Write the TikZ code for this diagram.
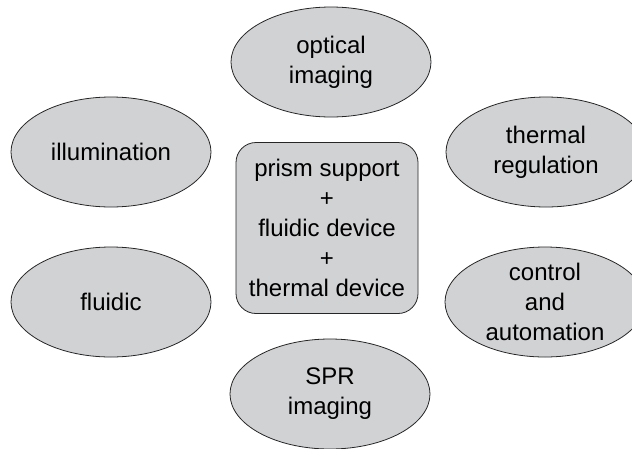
\documentclass[tikz,border=0pt]{standalone}
\usepackage{fontspec}
\setmainfont{Liberation Sans}
\usetikzlibrary{shapes.geometric}
\definecolor{partgray}{RGB}{209, 210, 212}

\begin{document}
\begin{tikzpicture}[x=1pt, y=-1pt,
			part/.style={ellipse, draw=black!85, fill=partgray, line width=0.8pt,
				minimum width=200pt, minimum height=110pt, inner xsep=0pt, inner ysep=-10pt,
				align=center, font=\fontsize{24}{30}\selectfont},
			core/.style={rectangle, rounded corners=20pt, draw=black!85, fill=partgray, line width=0.8pt,
				minimum width=182pt, minimum height=171pt, align=center,
				font=\fontsize{24}{30}\selectfont}]
			%Bildbereich
			\useasboundingbox (0,0) rectangle (632,448);
			\clip (0,0) rectangle (632,448);
			% Kern in der Mitte
			\node[core] (core) at (327,228) {prism support\\+\\fluidic device\\+\\thermal device};
			% Module rundherum
			\node[part] (optics) at (331,62) {optical\\imaging};
			\node[part] (light) at (111,152) {illumination};
			\node[part] (thermo) at (546,152) {thermal\\regulation};
			\node[part] (fluid) at (111,302) {fluidic};
			\node[part] (control) at (545,302) {control\\and\\automation};
			\node[part] (spr) at (330,394) {SPR\\imaging};
		\end{tikzpicture}
\end{document}
